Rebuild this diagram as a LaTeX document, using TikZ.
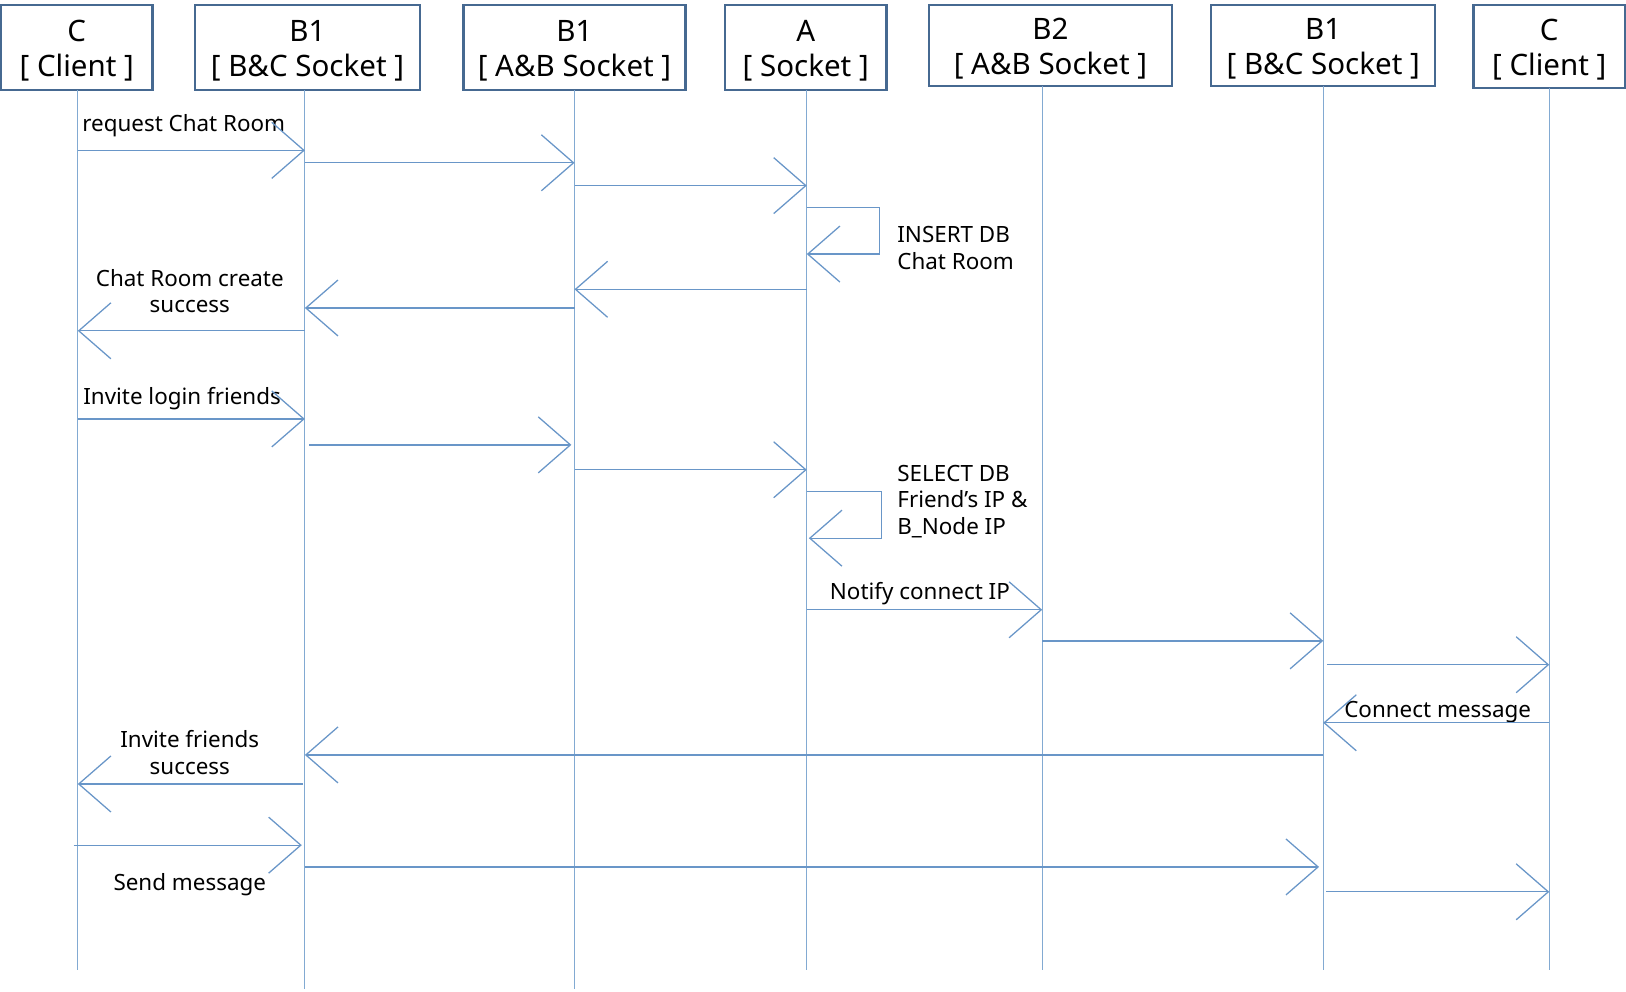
\documentclass[tikz,border=0pt]{standalone}
\usepackage{fontspec}
\setmainfont{Noto Sans}
\usetikzlibrary{arrows.meta}
\definecolor{boxline}{RGB}{70,105,145}
\definecolor{lifeln}{RGB}{130,170,210}
\definecolor{msgln}{RGB}{105,150,200}
\tikzset{
  actor/.style={draw=boxline, line width=1.3pt, inner sep=0pt},
  actortext/.style={inner sep=0pt, align=center,
    font=\fontsize{16.2}{19.2}\selectfont},
  life/.style={draw=lifeln, line width=0.6pt},
  msg/.style={draw=msgln, line width=0.7pt, -{Straight Barb[length=0.62cm,width=1.08cm]}},
  lbl/.style={inner sep=0pt, font=\fontsize{12.3}{14.5}\selectfont, align=center},
}
\begin{document}
\begin{tikzpicture}[x=0.02cm,y=-0.02cm]
\useasboundingbox (0,0) rectangle (1568,956);
% actor boxes
\node[actor, minimum width=146*0.02cm, minimum height=82*0.02cm] (c1) at (74,46) {};
\node[actor, minimum width=217*0.02cm, minimum height=82*0.02cm] (b1a) at (296.5,46) {};
\node[actor, minimum width=214*0.02cm, minimum height=82*0.02cm] (b1b) at (554,46) {};
\node[actor, minimum width=156*0.02cm, minimum height=82*0.02cm] (a) at (777,46) {};
\node[actor, minimum width=234*0.02cm, minimum height=78*0.02cm] (b2) at (1013,44) {};
\node[actor, minimum width=216*0.02cm, minimum height=78*0.02cm] (b1c) at (1276,44) {};
\node[actor, minimum width=146*0.02cm, minimum height=80*0.02cm] (c2) at (1494,45) {};
\node[actortext] (c1t) at ([yshift=-0.06cm]c1.center) {C\\{[} Client ]};
\node[actortext] (b1at) at ([yshift=-0.06cm]b1a.center) {B1\\{[} B\&C Socket ]};
\node[actortext] (b1bt) at ([yshift=-0.06cm]b1b.center) {B1\\{[} A\&B Socket ]};
\node[actortext] (at) at ([yshift=-0.06cm]a.center) {A\\{[} Socket ]};
\node[actortext] (b2t) at ([yshift=-0.06cm]b2.center) {B2\\{[} A\&B Socket ]};
\node[actortext] (b1ct) at ([yshift=-0.06cm]b1c.center) {B1\\{[} B\&C Socket ]};
\node[actortext] (c2t) at ([yshift=-0.06cm]c2.center) {C\\{[} Client ]};
% lifelines
\coordinate (L1) at (75,87);   \coordinate (E1) at (75,935);
\coordinate (L2) at (294,87);  \coordinate (E2) at (294,954);
\coordinate (L3) at (554,87);  \coordinate (E3) at (554,954);
\coordinate (L4) at (778,87);  \coordinate (E4) at (778,935);
\coordinate (L5) at (1005,83); \coordinate (E5) at (1005,935);
\coordinate (L6) at (1276,83); \coordinate (E6) at (1276,935);
\coordinate (L7) at (1494,85); \coordinate (E7) at (1494,935);
\foreach \i in {1,...,7} {\draw[life] (L\i) -- (E\i);}
% request chat room
\node[lbl, anchor=west] (t1) at (79,121) {request Chat Room};
\draw[msg] (L1 |- 0,145) -- (L2 |- 0,145);
\draw[msg] (L2 |- 0,157) -- (L3 |- 0,157);
\draw[msg] (L3 |- 0,179) -- (L4 |- 0,179);
\coordinate (s1a) at (848,200); \coordinate (s1b) at (848,245);
\draw[msg] (L4 |- 0,200) -- (s1a) -- (s1b) -- (L4 |- s1b);
\node[lbl, anchor=west, align=left] (t2) at (865,239) {INSERT DB\\Chat Room};
\draw[msg] (L4 |- 0,279) -- (L3 |- 0,279);
\draw[msg] (L3 |- 0,297) -- (L2 |- 0,297);
\draw[msg] (L2 |- 0,319) -- (L1 |- 0,319);
\node[lbl] (t3) at (183,280.5) {Chat Room create\\success};
% invite login friends
\node[lbl, anchor=west] (t4) at (80,384) {Invite login friends};
\draw[msg] (L1 |- 0,404) -- (L2 |- 0,404);
\draw[msg] (298,429) -- (551,429);
\draw[msg] (L3 |- 0,453) -- (L4 |- 0,453);
\coordinate (s2a) at (850,474); \coordinate (s2b) at (850,519);
\draw[msg] (L4 |- 0,474) -- (s2a) -- (s2b) -- (780,519);
\node[lbl, anchor=west, align=left] (t5) at (865,483.5) {SELECT DB\\Friend’s IP \&\\B\_Node IP};
% notify
\node[lbl, anchor=west] (t6) at (800,572) {Notify connect IP};
\draw[msg] (L4 |- 0,588) -- (L5 |- 0,588);
\draw[msg] (L5 |- 0,618) -- (L6 |- 0,618);
\draw[msg] (1280,641) -- (L7 |- 0,641);
\node[lbl, anchor=west] (t7) at (1296,687) {Connect message};
\draw[msg] (L7 |- 0,697) -- (L6 |- 0,697);
\draw[msg] (L6 |- 0,728) -- (L2 |- 0,728);
\node[lbl] (t8) at (183,725.5) {Invite friends\\success};
\draw[msg] (292,756) -- (L1 |- 0,756);
% send message
\draw[msg] (71,815) -- (291,815);
\node[lbl] (t9) at (183,853) {Send message};
\draw[msg] (L2 |- 0,836) -- (1272,836);
\draw[msg] (1279,860) -- (L7 |- 0,860);
\end{tikzpicture}
\end{document}
